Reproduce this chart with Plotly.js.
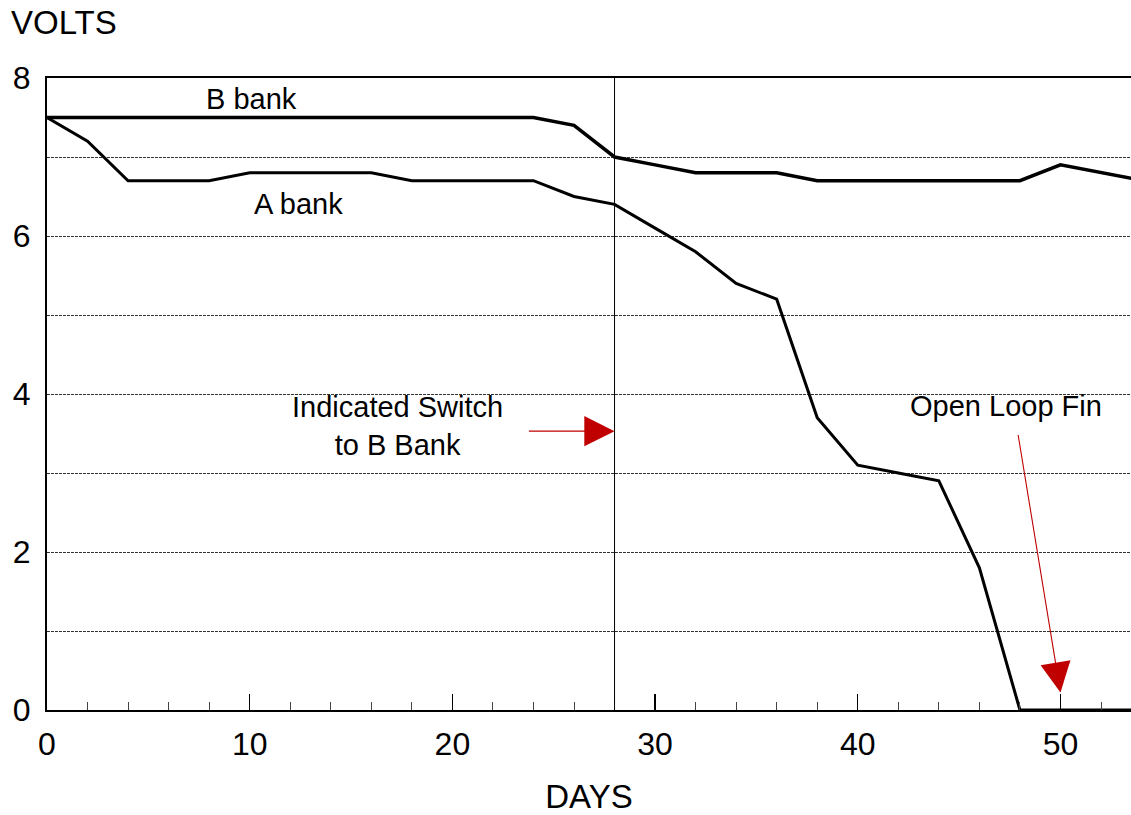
<!DOCTYPE html>
<html>
<head>
<meta charset="utf-8">
<script src="https://cdn.plot.ly/plotly-3.0.1.min.js"></script>
<style>html,body{margin:0;padding:0;background:#fff;}#chart{width:1131px;height:815px;}</style>
</head>
<body>
<div id="chart"></div>
<script>
const daysB  = [0, 2, 4, 6, 8, 10, 12, 14, 16, 18, 20, 22, 24, 26, 28, 30, 32, 34, 36, 38, 40, 42, 44, 46, 48, 50, 52, 53.5];
const voltsB = [7.5, 7.5, 7.5, 7.5, 7.5, 7.5, 7.5, 7.5, 7.5, 7.5, 7.5, 7.5, 7.5, 7.4, 7.0, 6.9, 6.8, 6.8, 6.8, 6.7, 6.7, 6.7, 6.7, 6.7, 6.7, 6.9, 6.8, 6.73];
const daysA  = [0, 2, 4, 6, 8, 10, 12, 14, 16, 18, 20, 22, 24, 26, 28, 30, 32, 34, 36, 38, 40, 42, 44, 46, 48, 50, 52, 53.5];
const voltsA = [7.5, 7.2, 6.7, 6.7, 6.7, 6.8, 6.8, 6.8, 6.8, 6.7, 6.7, 6.7, 6.7, 6.5, 6.4, 6.1, 5.8, 5.4, 5.2, 3.7, 3.1, 3.0, 2.9, 1.8, 0, 0, 0, 0];
const switchDay = 28;
const xTickVals = [0, 10, 20, 30, 40, 50];
const yTickVals = [0, 2, 4, 6, 8];

const FONT = 'Liberation Sans, Arial, sans-serif';
const RED = '#c00000';

const traces = [
  {x: daysB, y: voltsB, mode: 'lines', line: {color: '#000', width: 3.5}, name: 'B bank', hoverinfo: 'skip'},
  {x: daysA, y: voltsA, mode: 'lines', line: {color: '#000', width: 3}, name: 'A bank', hoverinfo: 'skip'}
];

const layout = {
  width: 1131, height: 815,
  margin: {l: 47, r: 0, t: 78, b: 105},
  paper_bgcolor: '#fff', plot_bgcolor: '#fff',
  showlegend: false,
  font: {family: FONT, color: '#000', size: 30},
  xaxis: {
    range: [0, 53.48], tickvals: xTickVals, ticks: 'inside', ticklen: 16, tickwidth: 1.2, tickcolor: '#000',
    showline: true, linecolor: '#000', linewidth: 2, mirror: true, showgrid: false, zeroline: false,
    tickfont: {size: 32, family: FONT}, ticklabelstandoff: 5,
    minor: {dtick: 2, ticks: 'inside', ticklen: 8, tickwidth: 1, tickcolor: '#444', showgrid: false},
    title: {text: 'DAYS', font: {size: 33, family: FONT}, standoff: 28}
  },
  yaxis: {
    range: [0, 8], tickvals: yTickVals, ticks: '', showline: true, linecolor: '#000', linewidth: 2,
    showgrid: true, gridcolor: '#333', gridwidth: 1, griddash: '3px,1px', zeroline: false,
    tickfont: {size: 32, family: FONT}, ticklabelstandoff: 8,
    minor: {dtick: 1, showgrid: true, gridcolor: '#333', gridwidth: 1, griddash: '3px,1px'}
  },
  shapes: [
    {type: 'line', xref: 'x', yref: 'y', x0: switchDay, x1: switchDay, y0: 0, y1: 8, line: {color: '#000', width: 1}}
  ],
  annotations: [
    {xref: 'paper', yref: 'paper', x: -0.035, y: 1.0, yshift: 56, xanchor: 'left', yanchor: 'middle', text: 'VOLTS', showarrow: false, font: {size: 33}},
    {xref: 'x', yref: 'y', x: 10.1, y: 7.73, text: 'B bank', showarrow: false, font: {size: 29}},
    {xref: 'x', yref: 'y', x: 12.4, y: 6.4, text: 'A bank', showarrow: false, font: {size: 29}},
    {xref: 'x', yref: 'y', x: 17.3, y: 3.6, text: 'Indicated Switch<br>to B Bank', showarrow: false, font: {size: 29}, align: 'center'},
    {xref: 'x', yref: 'y', x: 47.3, y: 3.85, text: 'Open Loop Fin', showarrow: false, font: {size: 29}},
    {xref: 'x', yref: 'y', x: switchDay, y: 3.53, ax: 23.7, ay: 3.53, axref: 'x', ayref: 'y', text: '', showarrow: true,
     arrowhead: 2, arrowsize: 5.5, arrowwidth: 1.1, arrowcolor: RED, standoff: 0},
    {xref: 'x', yref: 'y', x: 50, y: 0.22, ax: 47.9, ay: 3.5, axref: 'x', ayref: 'y', text: '', showarrow: true,
     arrowhead: 2, arrowsize: 5.5, arrowwidth: 1.1, arrowcolor: RED, standoff: 0}
  ]
};

Plotly.newPlot('chart', traces, layout, {staticPlot: true, displayModeBar: false});
</script>
</body>
</html>
